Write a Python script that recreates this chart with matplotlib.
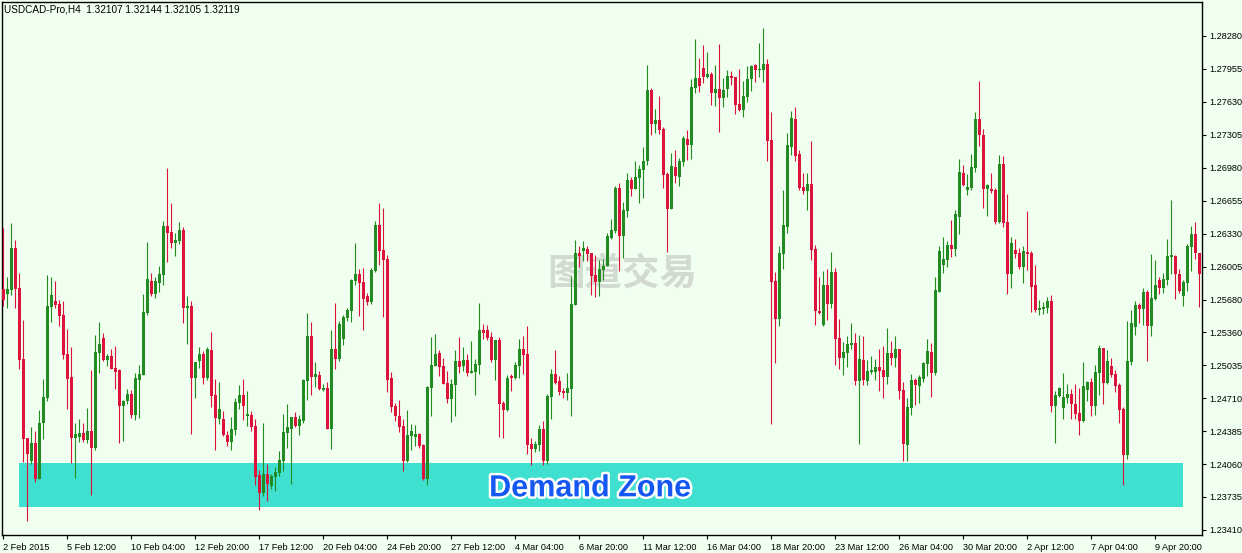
import numpy as np
import matplotlib
matplotlib.use('Agg')
import matplotlib.pyplot as plt
import matplotlib.patheffects as pe
from matplotlib.patches import Rectangle

plt.rcParams['font.family'] = ['Liberation Sans', 'DejaVu Sans', 'Noto Sans CJK SC']

# USDCAD H4, one value per bar
opens = [
    1.2579, 1.2574, 1.2578, 1.2619, 1.2580, 1.2510, 1.2432, 1.2409, 1.2427, 1.2391,
    1.2446, 1.2471, 1.2561, 1.2567, 1.2564, 1.2553, 1.2514, 1.2492, 1.2432, 1.2433,
    1.2437, 1.2430, 1.2439, 1.2422, 1.2515, 1.2530, 1.2509, 1.2512, 1.2501, 1.2499,
    1.2463, 1.2468, 1.2475, 1.2454, 1.2489, 1.2494, 1.2555, 1.2586, 1.2574, 1.2584,
    1.2592, 1.2641, 1.2635, 1.2624, 1.2626, 1.2637, 1.2560, 1.2562, 1.2491, 1.2508,
    1.2514, 1.2491, 1.2518, 1.2474, 1.2450, 1.2450, 1.2435, 1.2428, 1.2440, 1.2466,
    1.2474, 1.2453, 1.2454, 1.2443, 1.2395, 1.2377, 1.2396, 1.2384, 1.2393, 1.2397,
    1.2409, 1.2437, 1.2441, 1.2452, 1.2443, 1.2448, 1.2488, 1.2532, 1.2492, 1.2494,
    1.2479, 1.2481, 1.2441, 1.2519, 1.2510, 1.2529, 1.2550, 1.2557, 1.2586, 1.2593,
    1.2585, 1.2572, 1.2566, 1.2596, 1.2642, 1.2617, 1.2608, 1.2491, 1.2463, 1.2453,
    1.2443, 1.2409, 1.2434, 1.2433, 1.2436, 1.2425, 1.2391, 1.2481, 1.2503, 1.2515,
    1.2503, 1.2486, 1.2470, 1.2484, 1.2508, 1.2503, 1.2509, 1.2496, 1.2497, 1.2504,
    1.2538, 1.2538, 1.2531, 1.2509, 1.2528, 1.2466, 1.2459, 1.2493, 1.2491, 1.2503,
    1.2519, 1.2514, 1.2426, 1.2421, 1.2425, 1.2441, 1.2409, 1.2472, 1.2495, 1.2488,
    1.2478, 1.2476, 1.2480, 1.2563, 1.2614, 1.2616, 1.2618, 1.2614, 1.2592, 1.2585,
    1.2597, 1.2601, 1.2629, 1.2636, 1.2678, 1.2631, 1.2655, 1.2686, 1.2677, 1.2688,
    1.2696, 1.2705, 1.2775, 1.2741, 1.2745, 1.2736, 1.2692, 1.2657, 1.2699, 1.2689,
    1.2704, 1.2726, 1.2721, 1.2777, 1.2787, 1.2796, 1.2788, 1.2791, 1.2772, 1.2776,
    1.2767, 1.2776, 1.2789, 1.2788, 1.2761, 1.2755, 1.2768, 1.2786, 1.2799, 1.2794,
    1.2794, 1.2800, 1.2725, 1.2586, 1.2549, 1.2613, 1.2640, 1.2719, 1.2746, 1.2712,
    1.2679, 1.2675, 1.2682, 1.2618, 1.2557, 1.2543, 1.2582, 1.2564, 1.2595, 1.2530,
    1.2511, 1.2515, 1.2523, 1.2525, 1.2488, 1.2509, 1.2488, 1.2497, 1.2497, 1.2502,
    1.2499, 1.2492, 1.2515, 1.2511, 1.2519, 1.2479, 1.2425, 1.2461, 1.2489, 1.2483,
    1.2490, 1.2505, 1.2516, 1.2496, 1.2576, 1.2602, 1.2607, 1.2622, 1.2618, 1.2650,
    1.2693, 1.2676, 1.2678, 1.2698, 1.2746, 1.2730, 1.2677, 1.2677, 1.2676, 1.2645,
    1.2702, 1.2645, 1.2593, 1.2617, 1.2614, 1.2600, 1.2615, 1.2614, 1.2582, 1.2558,
    1.2559, 1.2560, 1.2567, 1.2463, 1.2473, 1.2461, 1.2471, 1.2475, 1.2465, 1.2456,
    1.2448, 1.2479, 1.2487, 1.2463, 1.2496, 1.2520, 1.2486, 1.2503, 1.2495, 1.2484,
    1.2460, 1.2415, 1.2507, 1.2541, 1.2563, 1.2559, 1.2576, 1.2542, 1.2569, 1.2587,
    1.2580, 1.2587, 1.2610, 1.2611, 1.2593, 1.2572, 1.2584, 1.2620, 1.2633, 1.2614]

highs = [
    1.2639, 1.2590, 1.2644, 1.2627, 1.2594, 1.2548, 1.2432, 1.2442, 1.2439, 1.2459,
    1.2490, 1.2592, 1.2590, 1.2586, 1.2568, 1.2567, 1.2539, 1.2521, 1.2446, 1.2450,
    1.2446, 1.2461, 1.2499, 1.2533, 1.2546, 1.2535, 1.2514, 1.2519, 1.2522, 1.2500,
    1.2469, 1.2480, 1.2479, 1.2496, 1.2504, 1.2574, 1.2625, 1.2594, 1.2590, 1.2601,
    1.2646, 1.2698, 1.2663, 1.2634, 1.2645, 1.2640, 1.2572, 1.2567, 1.2507, 1.2521,
    1.2517, 1.2521, 1.2536, 1.2490, 1.2487, 1.2458, 1.2439, 1.2452, 1.2471, 1.2484,
    1.2490, 1.2478, 1.2458, 1.2450, 1.2400, 1.2446, 1.2406, 1.2396, 1.2403, 1.2419,
    1.2455, 1.2465, 1.2452, 1.2457, 1.2454, 1.2490, 1.2555, 1.2546, 1.2507, 1.2498,
    1.2485, 1.2487, 1.2538, 1.2565, 1.2547, 1.2553, 1.2560, 1.2588, 1.2624, 1.2598,
    1.2599, 1.2575, 1.2599, 1.2646, 1.2663, 1.2658, 1.2612, 1.2497, 1.2466, 1.2469,
    1.2450, 1.2459, 1.2445, 1.2444, 1.2437, 1.2426, 1.2483, 1.2531, 1.2534, 1.2518,
    1.2511, 1.2498, 1.2490, 1.2518, 1.2531, 1.2521, 1.2514, 1.2527, 1.2510, 1.2565,
    1.2544, 1.2543, 1.2536, 1.2528, 1.2531, 1.2468, 1.2494, 1.2495, 1.2507, 1.2529,
    1.2532, 1.2542, 1.2432, 1.2429, 1.2444, 1.2448, 1.2475, 1.2500, 1.2518, 1.2493,
    1.2481, 1.2496, 1.2591, 1.2627, 1.2621, 1.2626, 1.2621, 1.2614, 1.2612, 1.2607,
    1.2608, 1.2634, 1.2648, 1.2680, 1.2683, 1.2664, 1.2693, 1.2689, 1.2705, 1.2701,
    1.2719, 1.2799, 1.2777, 1.2756, 1.2769, 1.2738, 1.2694, 1.2713, 1.2716, 1.2708,
    1.2729, 1.2735, 1.2786, 1.2825, 1.2806, 1.2819, 1.2812, 1.2792, 1.2799, 1.2820,
    1.2787, 1.2794, 1.2793, 1.2788, 1.2795, 1.2784, 1.2798, 1.2799, 1.2800, 1.2821,
    1.2836, 1.2805, 1.2753, 1.2595, 1.2621, 1.2676, 1.2732, 1.2754, 1.2758, 1.2716,
    1.2693, 1.2693, 1.2724, 1.2622, 1.2590, 1.2596, 1.2598, 1.2615, 1.2599, 1.2549,
    1.2526, 1.2532, 1.2545, 1.2535, 1.2533, 1.2532, 1.2509, 1.2512, 1.2510, 1.2519,
    1.2522, 1.2540, 1.2527, 1.2532, 1.2519, 1.2487, 1.2471, 1.2495, 1.2491, 1.2494,
    1.2507, 1.2529, 1.2525, 1.2590, 1.2621, 1.2630, 1.2626, 1.2647, 1.2656, 1.2707,
    1.2701, 1.2692, 1.2712, 1.2753, 1.2784, 1.2736, 1.2682, 1.2693, 1.2678, 1.2711,
    1.2710, 1.2672, 1.2630, 1.2628, 1.2619, 1.2621, 1.2655, 1.2616, 1.2602, 1.2568,
    1.2566, 1.2571, 1.2573, 1.2478, 1.2482, 1.2496, 1.2485, 1.2480, 1.2485, 1.2481,
    1.2507, 1.2488, 1.2491, 1.2504, 1.2523, 1.2520, 1.2518, 1.2511, 1.2499, 1.2486,
    1.2462, 1.2547, 1.2558, 1.2567, 1.2565, 1.2580, 1.2578, 1.2613, 1.2607, 1.2590,
    1.2594, 1.2628, 1.2666, 1.2612, 1.2598, 1.2587, 1.2623, 1.2641, 1.2645, 1.2614]

lows = [
    1.2562, 1.2560, 1.2573, 1.2560, 1.2500, 1.2408, 1.2350, 1.2406, 1.2388, 1.2391,
    1.2431, 1.2468, 1.2546, 1.2560, 1.2542, 1.2510, 1.2460, 1.2407, 1.2392, 1.2428,
    1.2428, 1.2427, 1.2375, 1.2420, 1.2496, 1.2508, 1.2503, 1.2500, 1.2480, 1.2427,
    1.2429, 1.2465, 1.2451, 1.2449, 1.2451, 1.2494, 1.2553, 1.2572, 1.2570, 1.2576,
    1.2582, 1.2605, 1.2619, 1.2611, 1.2623, 1.2545, 1.2524, 1.2436, 1.2471, 1.2501,
    1.2485, 1.2489, 1.2462, 1.2420, 1.2445, 1.2434, 1.2424, 1.2420, 1.2435, 1.2460,
    1.2449, 1.2443, 1.2439, 1.2385, 1.2361, 1.2374, 1.2370, 1.2381, 1.2379, 1.2394,
    1.2399, 1.2422, 1.2386, 1.2442, 1.2435, 1.2446, 1.2469, 1.2474, 1.2482, 1.2479,
    1.2478, 1.2441, 1.2421, 1.2500, 1.2508, 1.2523, 1.2547, 1.2546, 1.2582, 1.2552,
    1.2538, 1.2563, 1.2564, 1.2595, 1.2602, 1.2551, 1.2477, 1.2457, 1.2448, 1.2438,
    1.2399, 1.2408, 1.2420, 1.2424, 1.2422, 1.2390, 1.2385, 1.2453, 1.2503, 1.2493,
    1.2485, 1.2466, 1.2447, 1.2453, 1.2496, 1.2498, 1.2493, 1.2496, 1.2474, 1.2495,
    1.2529, 1.2528, 1.2507, 1.2489, 1.2433, 1.2432, 1.2458, 1.2478, 1.2490, 1.2491,
    1.2495, 1.2416, 1.2405, 1.2418, 1.2419, 1.2405, 1.2406, 1.2450, 1.2485, 1.2474,
    1.2471, 1.2469, 1.2453, 1.2563, 1.2600, 1.2606, 1.2606, 1.2573, 1.2571, 1.2572,
    1.2587, 1.2601, 1.2628, 1.2634, 1.2596, 1.2609, 1.2650, 1.2670, 1.2677, 1.2663,
    1.2668, 1.2701, 1.2730, 1.2732, 1.2731, 1.2678, 1.2615, 1.2657, 1.2683, 1.2680,
    1.2700, 1.2706, 1.2707, 1.2772, 1.2773, 1.2782, 1.2787, 1.2760, 1.2759, 1.2733,
    1.2758, 1.2768, 1.2780, 1.2751, 1.2754, 1.2748, 1.2763, 1.2774, 1.2783, 1.2788,
    1.2783, 1.2705, 1.2445, 1.2506, 1.2542, 1.2598, 1.2634, 1.2711, 1.2705, 1.2676,
    1.2672, 1.2656, 1.2607, 1.2543, 1.2554, 1.2542, 1.2548, 1.2560, 1.2504, 1.2500,
    1.2494, 1.2502, 1.2519, 1.2484, 1.2426, 1.2484, 1.2484, 1.2495, 1.2489, 1.2478,
    1.2471, 1.2485, 1.2504, 1.2502, 1.2470, 1.2409, 1.2409, 1.2454, 1.2464, 1.2466,
    1.2487, 1.2493, 1.2472, 1.2494, 1.2576, 1.2594, 1.2600, 1.2610, 1.2611, 1.2633,
    1.2680, 1.2671, 1.2676, 1.2694, 1.2720, 1.2658, 1.2651, 1.2673, 1.2643, 1.2644,
    1.2640, 1.2574, 1.2580, 1.2609, 1.2598, 1.2584, 1.2597, 1.2556, 1.2556, 1.2553,
    1.2554, 1.2555, 1.2457, 1.2427, 1.2472, 1.2450, 1.2466, 1.2450, 1.2450, 1.2435,
    1.2447, 1.2468, 1.2453, 1.2454, 1.2474, 1.2465, 1.2485, 1.2492, 1.2477, 1.2446,
    1.2385, 1.2411, 1.2504, 1.2533, 1.2545, 1.2543, 1.2508, 1.2532, 1.2568, 1.2574,
    1.2575, 1.2582, 1.2593, 1.2569, 1.2575, 1.2562, 1.2577, 1.2596, 1.2608, 1.2561]

closes = [
    1.2568, 1.2579, 1.2619, 1.2579, 1.2509, 1.2431, 1.2416, 1.2427, 1.2391, 1.2446,
    1.2472, 1.2562, 1.2573, 1.2563, 1.2552, 1.2513, 1.2490, 1.2432, 1.2436, 1.2437,
    1.2430, 1.2439, 1.2422, 1.2516, 1.2524, 1.2509, 1.2512, 1.2500, 1.2497, 1.2463,
    1.2468, 1.2475, 1.2454, 1.2491, 1.2495, 1.2556, 1.2588, 1.2574, 1.2586, 1.2593,
    1.2641, 1.2634, 1.2624, 1.2627, 1.2637, 1.2560, 1.2562, 1.2491, 1.2507, 1.2514,
    1.2491, 1.2519, 1.2473, 1.2451, 1.2460, 1.2435, 1.2428, 1.2441, 1.2467, 1.2474,
    1.2463, 1.2455, 1.2442, 1.2393, 1.2377, 1.2396, 1.2386, 1.2394, 1.2398, 1.2410,
    1.2438, 1.2442, 1.2452, 1.2443, 1.2450, 1.2489, 1.2532, 1.2492, 1.2495, 1.2480,
    1.2481, 1.2441, 1.2519, 1.2510, 1.2544, 1.2551, 1.2558, 1.2587, 1.2593, 1.2584,
    1.2569, 1.2566, 1.2597, 1.2642, 1.2616, 1.2607, 1.2489, 1.2462, 1.2453, 1.2442,
    1.2409, 1.2435, 1.2439, 1.2436, 1.2424, 1.2391, 1.2482, 1.2504, 1.2514, 1.2502,
    1.2485, 1.2470, 1.2485, 1.2508, 1.2502, 1.2509, 1.2496, 1.2498, 1.2505, 1.2538,
    1.2535, 1.2530, 1.2509, 1.2528, 1.2465, 1.2459, 1.2491, 1.2491, 1.2504, 1.2519,
    1.2513, 1.2425, 1.2421, 1.2426, 1.2441, 1.2409, 1.2473, 1.2495, 1.2486, 1.2477,
    1.2476, 1.2481, 1.2564, 1.2614, 1.2611, 1.2619, 1.2613, 1.2591, 1.2585, 1.2598,
    1.2601, 1.2631, 1.2637, 1.2678, 1.2631, 1.2656, 1.2686, 1.2677, 1.2689, 1.2697,
    1.2705, 1.2775, 1.2741, 1.2745, 1.2735, 1.2691, 1.2657, 1.2700, 1.2690, 1.2705,
    1.2727, 1.2721, 1.2778, 1.2787, 1.2779, 1.2788, 1.2791, 1.2772, 1.2776, 1.2767,
    1.2775, 1.2789, 1.2787, 1.2760, 1.2755, 1.2769, 1.2786, 1.2798, 1.2794, 1.2795,
    1.2800, 1.2724, 1.2585, 1.2549, 1.2614, 1.2642, 1.2721, 1.2747, 1.2710, 1.2678,
    1.2675, 1.2682, 1.2617, 1.2557, 1.2555, 1.2582, 1.2564, 1.2595, 1.2529, 1.2511,
    1.2516, 1.2524, 1.2525, 1.2488, 1.2510, 1.2489, 1.2498, 1.2499, 1.2502, 1.2498,
    1.2492, 1.2515, 1.2511, 1.2519, 1.2478, 1.2426, 1.2462, 1.2489, 1.2484, 1.2492,
    1.2506, 1.2517, 1.2496, 1.2578, 1.2616, 1.2608, 1.2622, 1.2618, 1.2652, 1.2694,
    1.2681, 1.2679, 1.2699, 1.2746, 1.2730, 1.2677, 1.2681, 1.2675, 1.2645, 1.2702,
    1.2644, 1.2593, 1.2624, 1.2613, 1.2600, 1.2616, 1.2613, 1.2581, 1.2558, 1.2560,
    1.2561, 1.2567, 1.2463, 1.2474, 1.2481, 1.2472, 1.2475, 1.2465, 1.2455, 1.2448,
    1.2483, 1.2487, 1.2463, 1.2497, 1.2520, 1.2486, 1.2508, 1.2494, 1.2483, 1.2459,
    1.2415, 1.2508, 1.2545, 1.2563, 1.2559, 1.2576, 1.2542, 1.2570, 1.2582, 1.2580,
    1.2588, 1.2611, 1.2612, 1.2593, 1.2577, 1.2585, 1.2621, 1.2633, 1.2614, 1.2593]

time_labels = ['2 Feb 2015', '5 Feb 12:00', '10 Feb 04:00', '12 Feb 20:00', '17 Feb 12:00',
               '20 Feb 04:00', '24 Feb 20:00', '27 Feb 12:00', '4 Mar 04:00', '6 Mar 20:00',
               '11 Mar 12:00', '16 Mar 04:00', '18 Mar 20:00', '23 Mar 12:00', '26 Mar 04:00',
               '30 Mar 20:00', '2 Apr 12:00', '7 Apr 04:00', '9 Apr 20:00']
label_every = 16  # one time label per 16 bars

price_ticks = [1.28280, 1.27955, 1.27630, 1.27305, 1.26980, 1.26655, 1.26330, 1.26005,
               1.25680, 1.25360, 1.25035, 1.24710, 1.24385, 1.24060, 1.23735, 1.23410]

zone_low, zone_high = 1.2364, 1.2407
zone_from, zone_to = 3.9, 294.9  # bar index span of the box

header = 'USDCAD-Pro,H4  1.32107 1.32144 1.32105 1.32119'

bg = '#F0FFF0'
up_col = '#228B22'
down_col = '#DC143C'

W, H = 1242, 553
fig = plt.figure(figsize=(W / 100, H / 100), dpi=100, facecolor=bg)
ax = fig.add_axes([2 / W, 18 / H, 1200 / W, 533 / H], facecolor=bg)

o = np.array(opens)
h = np.array(highs)
l = np.array(lows)
c = np.array(closes)
x = np.arange(len(o))
cols = np.where(c >= o, up_col, down_col)

ax.add_patch(Rectangle((zone_from, zone_low), zone_to - zone_from, zone_high - zone_low,
                       facecolor='#40E0D0', edgecolor='none', zorder=1))

ax.vlines(x, l, h, colors=cols, linewidth=0.8, zorder=3)
body_lo = np.minimum(o, c)
body_h = np.maximum(np.abs(c - o), 0.00009)
ax.bar(x, body_h, bottom=body_lo, width=0.75, color=cols, linewidth=0, zorder=4)

ax.text(0.5 + 20 / 1200, 0.49, '图道交易', transform=ax.transAxes, ha='center', va='center',
        fontsize=27, fontweight='bold', color='#D2DAD2', family=['Noto Sans CJK SC'], zorder=2)

ax.text(146.7, 1.2382, 'Demand Zone', ha='center', va='center', fontsize=22,
        fontweight='bold', color='#1457F2', family=['Liberation Sans'], zorder=6,
        path_effects=[pe.withStroke(linewidth=3.5, foreground='white')])

fig.text(4 / W, 1 - 10 / H, header, ha='left', va='center', fontsize=7.2, color='black')

ax.set_xlim(-0.33, 299.7)
ax.set_ylim(1.2336, 1.28615)

ax.yaxis.tick_right()
ax.set_yticks(price_ticks)
ax.set_yticklabels(['%.5f' % p for p in price_ticks])
ax.set_xticks(np.arange(0, len(time_labels) * label_every, label_every))
ax.set_xticklabels(time_labels, ha='left')
ax.tick_params(axis='both', labelsize=6.6, length=3, width=0.8, color='black', pad=2)
ax.tick_params(axis='x', pad=3)

for s in ax.spines.values():
    s.set_color('black')
    s.set_linewidth(1.0)

fig.savefig('out.png', dpi=100, facecolor=bg)
